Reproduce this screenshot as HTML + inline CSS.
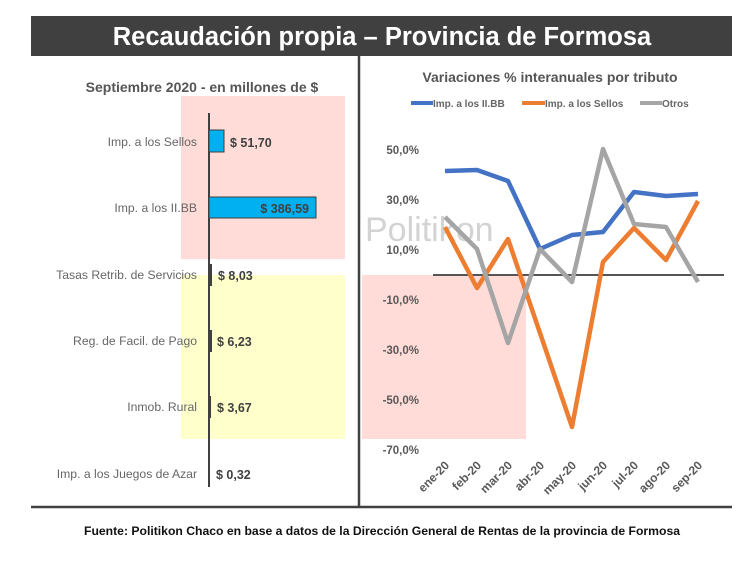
<!DOCTYPE html>
<html><head><meta charset="utf-8"><style>
html,body{margin:0;padding:0;background:#fff;}
svg{display:block;font-family:"Liberation Sans",Arial,sans-serif;}
</style></head><body>
<svg width="750" height="563" viewBox="0 0 750 563" xmlns="http://www.w3.org/2000/svg">
<rect width="750" height="563" fill="#fff"/>
<rect x="31" y="16" width="701" height="40" fill="#404040"/>
<text x="382" y="45" text-anchor="middle" font-size="25.5" font-weight="bold" fill="#fff">Recaudación propia – Provincia de Formosa</text>
<line x1="359" y1="56" x2="359" y2="508" stroke="#404040" stroke-width="2.5"/>
<line x1="31" y1="507" x2="732" y2="507" stroke="#404040" stroke-width="2.5"/>
<rect x="181" y="96" width="164" height="163" fill="#ffdcd8"/>
<rect x="181" y="275" width="164" height="164" fill="#ffffcc"/>
<text x="202" y="92" text-anchor="middle" font-size="14" font-weight="bold" fill="#555">Septiembre 2020 - en millones de $</text>
<line x1="209" y1="113" x2="209" y2="487" stroke="#404040" stroke-width="2"/>
<rect x="209" y="130" width="15" height="22" fill="#00b0f0" stroke="#404040" stroke-width="1"/>
<rect x="209" y="197" width="107" height="21" fill="#00b0f0" stroke="#404040" stroke-width="1"/>
<rect x="209" y="264" width="3" height="22" fill="#404040"/>
<rect x="209" y="330" width="3" height="22" fill="#404040"/>
<rect x="209" y="396" width="2" height="22" fill="#404040"/>
<g font-size="12.2" fill="#666" text-anchor="end">
<text x="197" y="146">Imp. a los Sellos</text>
<text x="197" y="212">Imp. a los II.BB</text>
<text x="197" y="279">Tasas Retrib. de Servicios</text>
<text x="197" y="345">Reg. de Facil. de Pago</text>
<text x="197" y="411">Inmob. Rural</text>
<text x="197" y="478">Imp. a los Juegos de Azar</text>
</g>
<g font-size="12.5" font-weight="bold" fill="#404040">
<text x="230" y="147">$ 51,70</text>
<text x="309" y="213" text-anchor="end">$ 386,59</text>
<text x="218" y="280">$ 8,03</text>
<text x="217" y="346">$ 6,23</text>
<text x="217" y="412">$ 3,67</text>
<text x="216" y="479">$ 0,32</text>
</g>
<rect x="362" y="275" width="164" height="164" fill="#ffdcd8"/>
<text x="550" y="82" text-anchor="middle" font-size="14" font-weight="bold" fill="#555">Variaciones % interanuales por tributo</text>
<g font-size="10" font-weight="bold" fill="#666">
<line x1="411" y1="103" x2="433" y2="103" stroke="#4472c4" stroke-width="4"/>
<text x="433" y="107">Imp. a los II.BB</text>
<line x1="522" y1="103" x2="545" y2="103" stroke="#ed7d31" stroke-width="4"/>
<text x="545" y="107">Imp. a los Sellos</text>
<line x1="640" y1="103" x2="662" y2="103" stroke="#a5a5a5" stroke-width="4"/>
<text x="662" y="107">Otros</text>
</g>
<text x="365" y="241" font-size="34" fill="#d3d3d3">Politikon</text>
<g font-size="11.5" font-weight="bold" fill="#595959" text-anchor="end">
<text x="419" y="154">50,0%</text>
<text x="419" y="204">30,0%</text>
<text x="419" y="254">10,0%</text>
<text x="419" y="304">-10,0%</text>
<text x="419" y="354">-30,0%</text>
<text x="419" y="404">-50,0%</text>
<text x="419" y="454">-70,0%</text>
</g>
<line x1="433" y1="275" x2="724" y2="275" stroke="#555" stroke-width="2"/>
<polyline fill="none" stroke="#4472c4" stroke-width="4.5" stroke-linejoin="round" points="445,171 477,170 508,181 540,249 572,235 603,232 634,192 666,196 698,194"/>
<polyline fill="none" stroke="#ed7d31" stroke-width="4.5" stroke-linejoin="round" points="445,227 477,288 508,239 540,333 572,427 603,262 634,228 666,260 698,201"/>
<polyline fill="none" stroke="#a5a5a5" stroke-width="4.5" stroke-linejoin="round" points="445,217 477,249 508,343 540,249 572,282 603,149 634,224 666,227 698,282"/>
<g font-size="12" font-weight="bold" fill="#595959" text-anchor="end">
<text transform="translate(450,466) rotate(-45)">ene-20</text>
<text transform="translate(482,466) rotate(-45)">feb-20</text>
<text transform="translate(513,466) rotate(-45)">mar-20</text>
<text transform="translate(545,466) rotate(-45)">abr-20</text>
<text transform="translate(577,466) rotate(-45)">may-20</text>
<text transform="translate(608,466) rotate(-45)">jun-20</text>
<text transform="translate(639,466) rotate(-45)">jul-20</text>
<text transform="translate(671,466) rotate(-45)">ago-20</text>
<text transform="translate(703,466) rotate(-45)">sep-20</text>
</g>
<text x="382" y="535" text-anchor="middle" font-size="12.2" font-weight="bold" fill="#111">Fuente: Politikon Chaco en base a datos de la Dirección General de Rentas de la provincia de Formosa</text>
</svg>
</body></html>
